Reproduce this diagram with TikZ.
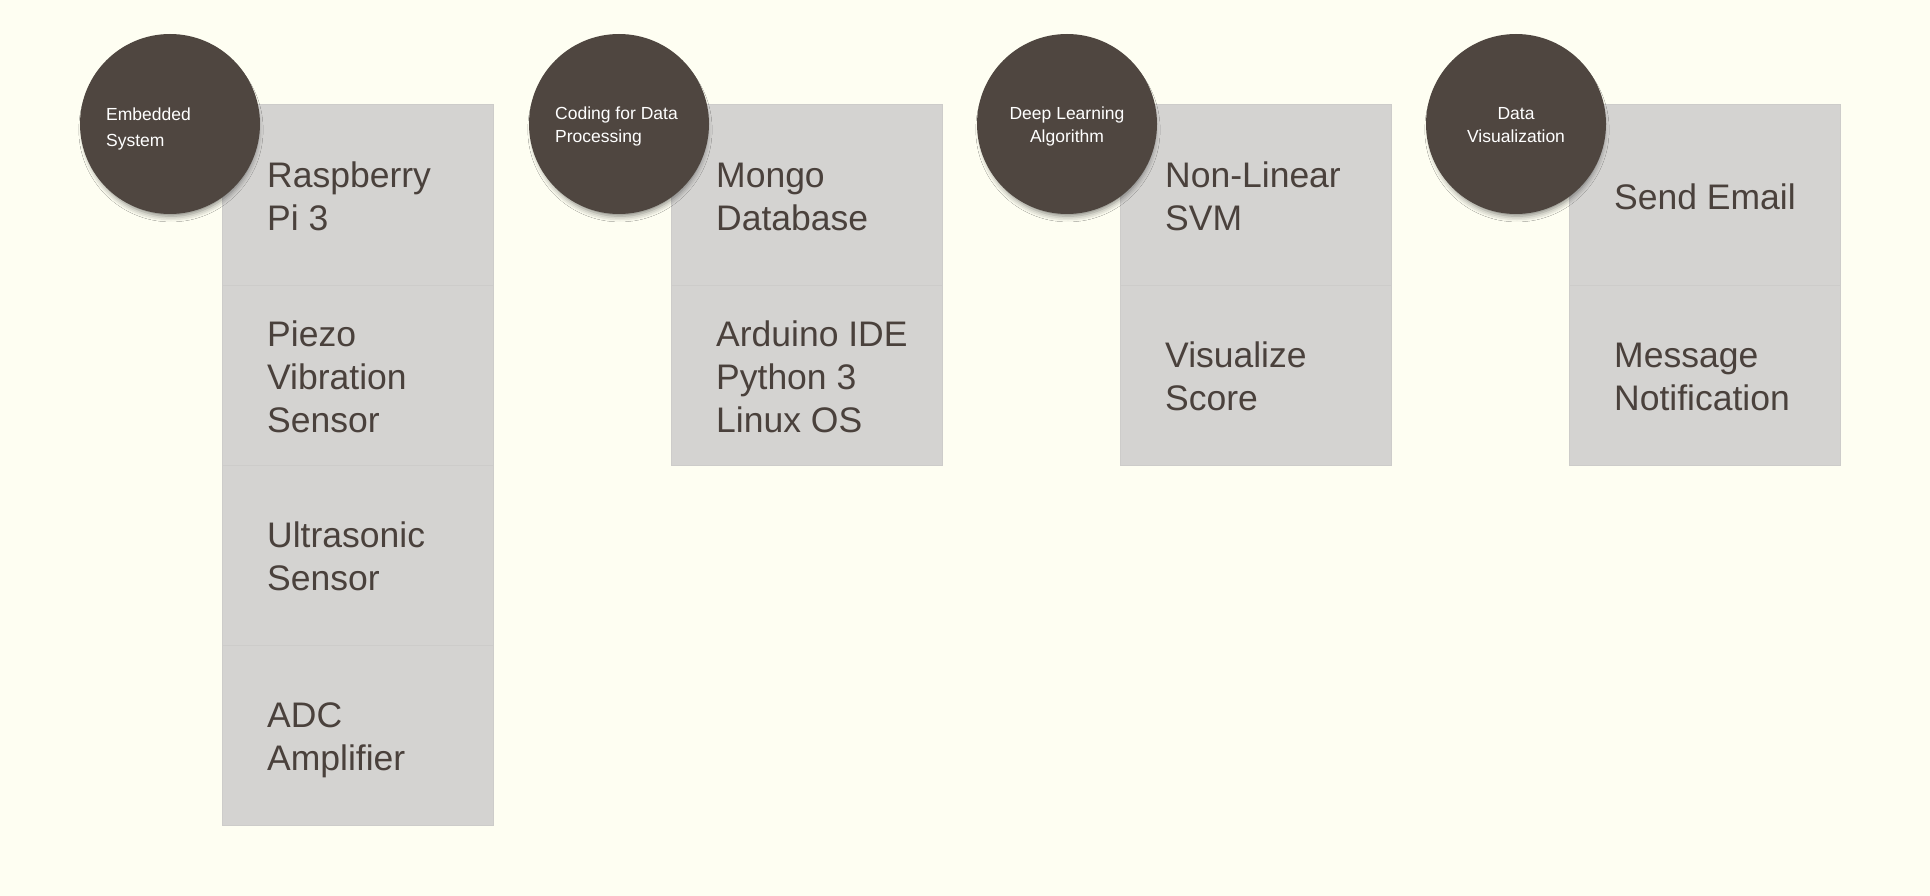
\documentclass[tikz,border=0pt]{standalone}
\usepackage{fontspec}
\setmainfont{Liberation Sans}
\usetikzlibrary{shadows.blur}
\definecolor{bg}{HTML}{FEFEF2}
\definecolor{cellfill}{HTML}{D4D3D1}
\definecolor{cellline}{HTML}{CDCCCA}
\definecolor{ink}{HTML}{4A413C}
\definecolor{circfill}{HTML}{4F4640}
\tikzset{
  cell/.style={rectangle, fill=cellfill, draw=cellline, line width=1pt,
    minimum width=271pt, minimum height=180pt, inner sep=0pt, outer sep=0pt, anchor=north west},
  rowtext/.style={anchor=west, inner sep=0pt, align=left, text=ink, text depth=0pt,
    font=\fontsize{35.5}{43}\selectfont},
  bubble/.style={circle, fill=circfill, minimum size=180pt, inner sep=0pt,
    blur shadow={shadow xshift=1pt, shadow yshift=-6pt, shadow scale=0.96, shadow blur radius=6pt, shadow opacity=50}},
  bublabel/.style={inner sep=0pt, text=white, text depth=0pt,
    font=\fontsize{17.5}{23}\selectfont}
}
\begin{document}
\begin{tikzpicture}[x=1pt,y=-1pt]
\path[fill=bg] (0,0) rectangle (1930,896);
\useasboundingbox (0,0) rectangle (1930,896);
% column 1
\node[cell] (c11) at (222,105) {};
\node[cell] (c12) at (222,285) {};
\node[cell] (c13) at (222,465) {};
\node[cell] (c14) at (222,645) {};
% column 2
\node[cell] (c21) at (671,105) {};
\node[cell] (c22) at (671,285) {};
% column 3
\node[cell] (c31) at (1120,105) {};
\node[cell] (c32) at (1120,285) {};
% column 4
\node[cell] (c41) at (1569,105) {};
\node[cell] (c42) at (1569,285) {};
% texts
\node[rowtext] (t11) at ([xshift=45pt,yshift=-1.5pt]c11.west) {Raspberry\\Pi 3};
\node[rowtext] (t12) at ([xshift=45pt,yshift=-1.5pt]c12.west) {Piezo\\Vibration\\Sensor};
\node[rowtext] (t13) at ([xshift=45pt,yshift=-1.5pt]c13.west) {Ultrasonic\\Sensor};
\node[rowtext] (t14) at ([xshift=45pt,yshift=-1.5pt]c14.west) {ADC\\Amplifier};
\node[rowtext] (t21) at ([xshift=45pt,yshift=-1.5pt]c21.west) {Mongo\\Database};
\node[rowtext] (t22) at ([xshift=45pt,yshift=-1.5pt]c22.west) {Arduino IDE\\Python 3\\Linux OS};
\node[rowtext] (t31) at ([xshift=45pt,yshift=-1.5pt]c31.west) {Non-Linear\\SVM};
\node[rowtext] (t32) at ([xshift=45pt,yshift=-1.5pt]c32.west) {Visualize\\Score};
\node[rowtext] (t41) at ([xshift=45pt,yshift=-1.5pt]c41.west) {Send Email};
\node[rowtext] (t42) at ([xshift=45pt,yshift=-1.5pt]c42.west) {Message\\Notification};
% circles
\node[bubble] (b1) at (170,124) {};
\node[bubble] (b2) at (619,124) {};
\node[bubble] (b3) at (1067,124) {};
\node[bubble] (b4) at (1516,124) {};
\node[bublabel, align=left, anchor=west, font=\fontsize{17.5}{26}\selectfont] (l1) at (106,127.5) {Embedded\\System};
\node[bublabel, align=left, anchor=west] (l2) at (555,124.5) {Coding for Data\\Processing};
\node[bublabel, align=center] (l3) at (1067,124.5) {Deep Learning\\Algorithm};
\node[bublabel, align=center] (l4) at (1516,124.5) {Data\\Visualization};
\end{tikzpicture}
\end{document}
